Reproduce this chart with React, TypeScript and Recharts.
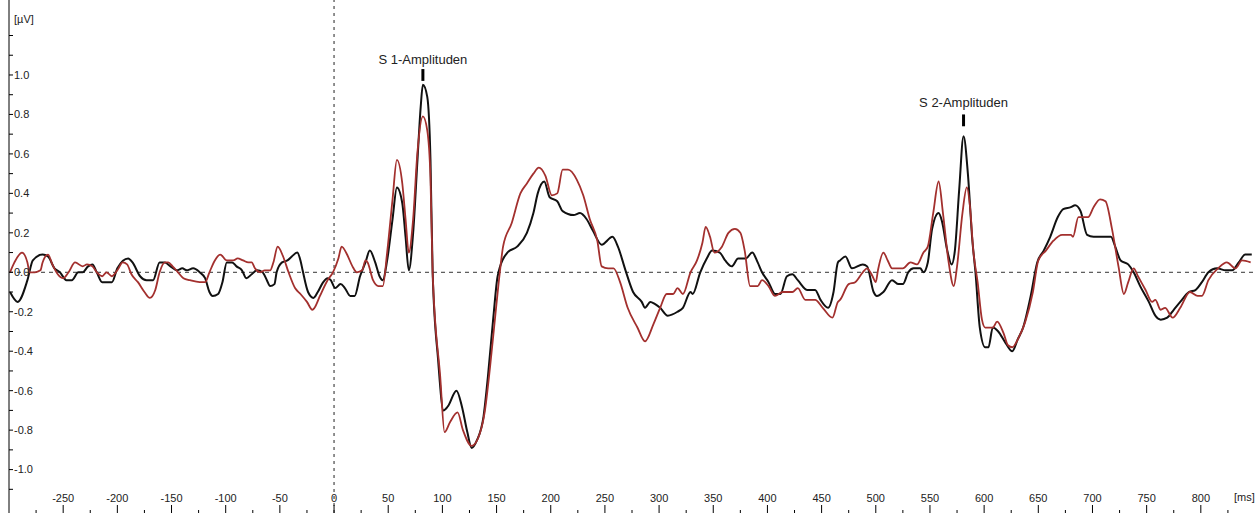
import { Label, Line, LineChart, ReferenceLine, XAxis, YAxis } from "recharts";

// ERP traces, time in ms, amplitude in µV
const blackTimes = [
  -299, -292, -283, -278, -269, -264, -258, -253, -247, -242,
  -236, -232, -227, -223, -219, -214, -205, -200, -190, -186,
  -179, -173, -167, -161, -156, -151, -145, -140, -136, -130,
  -124, -119, -115, -112, -107, -103, -99, -94, -90, -85,
  -81, -76, -71, -66, -62, -59, -55, -53, -48, -43,
  -39, -34, -31, -29, -24, -19, -15, -10, -6, -3,
  1, 6, 10, 15, 19, 24, 29, 33, 38, 42,
  45, 49, 54, 58, 63, 66, 69, 73, 77, 80,
  82, 86, 89, 91, 96, 101, 105, 113, 118, 123,
  127, 132, 138, 142, 147, 151, 160, 169, 178, 184,
  188, 194, 199, 206, 211, 221, 227, 233, 239, 247,
  257, 262, 269, 276, 284, 287, 292, 296, 301, 308,
  317, 322, 329, 331, 338, 344, 349, 356, 361, 367,
  373, 380, 386, 391, 395, 401, 407, 412, 418, 423,
  428, 437, 444, 449, 456, 461, 465, 467, 472, 478,
  488, 492, 498, 501, 507, 515, 521, 525, 530, 535,
  541, 544, 548, 552, 558, 561, 566, 570, 573, 577,
  581, 585, 589, 592, 596, 601, 604, 608, 613, 620,
  626, 631, 636, 643, 649, 655, 661, 668, 673, 680,
  684, 689, 695, 701, 707, 712, 717, 721, 726, 733,
  738, 744, 752, 758, 763, 769, 775, 781, 789, 795,
  801, 807, 815, 823, 829, 835, 841, 847,
];
const blackValues = [
  -0.1, -0.15, -0.04, 0.06, 0.09, 0.08, 0.02, 0.0, -0.04, -0.04,
  0.0, 0.0, 0.03, 0.04, 0.0, -0.05, -0.05, 0.02, 0.07, 0.05,
  -0.02, -0.04, -0.04, 0.05, 0.05, 0.03, 0.01, 0.02, 0.01, 0.02,
  0.0, -0.03, -0.1, -0.12, -0.11, -0.05, 0.05, 0.05, 0.03, 0.01,
  -0.03, -0.01, 0.01, 0.0, -0.04, -0.07, -0.06, 0.0, 0.05, 0.06,
  0.08, 0.1, 0.06, 0.01, -0.1, -0.13, -0.1, -0.05, -0.03, -0.04,
  -0.08, -0.06, -0.08, -0.12, -0.12, -0.02, 0.05, 0.11, 0.05, -0.02,
  -0.04, 0.06, 0.27, 0.43, 0.35, 0.18, 0.01, 0.2, 0.57, 0.84,
  0.95, 0.89, 0.57, 0.0, -0.44, -0.7, -0.68, -0.6, -0.68, -0.81,
  -0.89, -0.85, -0.73, -0.53, -0.23, -0.02, 0.1, 0.13, 0.2, 0.3,
  0.4, 0.46, 0.38, 0.36, 0.31, 0.29, 0.3, 0.27, 0.21, 0.14,
  0.18, 0.13, 0.01, -0.1, -0.15, -0.18, -0.15, -0.16, -0.18, -0.22,
  -0.2, -0.18, -0.1, -0.11, 0.0, 0.07, 0.11, 0.1, 0.06, 0.03,
  0.07, 0.07, 0.1, 0.05, 0.0, -0.05, -0.11, -0.11, -0.02, -0.01,
  -0.04, -0.09, -0.09, -0.14, -0.18, -0.1, 0.05, 0.06, 0.08, 0.02,
  0.04, 0.03, -0.1, -0.12, -0.1, -0.04, -0.06, -0.06, 0.0, 0.02,
  0.02, 0.0, 0.05, 0.22, 0.3, 0.26, 0.11, 0.04, 0.11, 0.42,
  0.69, 0.5, 0.17, 0.0, -0.28, -0.38, -0.38, -0.28, -0.3, -0.36,
  -0.4, -0.34, -0.28, -0.12, 0.05, 0.11, 0.18, 0.28, 0.32, 0.33,
  0.34, 0.31, 0.19, 0.18, 0.18, 0.18, 0.18, 0.13, 0.06, 0.04,
  0.0, -0.07, -0.15, -0.22, -0.24, -0.23, -0.19, -0.15, -0.1, -0.09,
  -0.05, 0.0, 0.02, 0.01, 0.01, 0.05, 0.09, 0.09,
];

const redTimes = [
  -299, -295, -288, -283, -281, -276, -271, -269, -264, -260,
  -255, -250, -245, -239, -232, -228, -223, -219, -214, -210,
  -205, -200, -195, -191, -187, -181, -175, -170, -165, -161,
  -156, -153, -149, -144, -139, -133, -124, -119, -115, -110,
  -105, -99, -93, -89, -84, -79, -76, -73, -68, -64,
  -59, -56, -52, -47, -42, -36, -31, -25, -20, -18,
  -13, -6, -1, 4, 7, 12, 17, 21, 26, 29,
  31, 36, 41, 45, 49, 54, 58, 63, 66, 69,
  73, 77, 82, 86, 89, 91, 98, 102, 107, 114,
  119, 127, 133, 139, 144, 149, 153, 156, 164, 172,
  178, 184, 189, 195, 201, 206, 211, 216, 224, 230,
  236, 243, 247, 253, 258, 264, 271, 280, 287, 295,
  301, 307, 313, 317, 322, 329, 335, 340, 343, 347,
  351, 358, 364, 370, 375, 379, 384, 391, 395, 401,
  407, 414, 423, 428, 435, 444, 451, 460, 465, 467,
  475, 481, 488, 492, 497, 500, 502, 507, 511, 515,
  525, 532, 538, 544, 548, 553, 558, 562, 567, 572,
  575, 580, 584, 587, 590, 594, 598, 601, 608, 612,
  618, 622, 626, 632, 638, 645, 650, 657, 664, 672,
  680, 682, 687, 696, 701, 707, 712, 718, 724, 729,
  733, 738, 742, 749, 755, 758, 763, 767, 774, 781,
  790, 797, 801, 807, 816, 824, 832, 838, 846,
];
const redValues = [
  0.0, 0.05, 0.1, 0.05, 0.0, 0.0, 0.01, 0.05, 0.09, 0.04,
  -0.01, -0.03, 0.0, 0.05, 0.03, 0.04, 0.03, 0.0, -0.02, 0.0,
  -0.02, 0.01, 0.05, 0.04, -0.01, -0.05, -0.1, -0.13, -0.09, 0.0,
  0.05, 0.05, 0.03, 0.0, -0.03, -0.04, -0.05, -0.05, 0.0, 0.06,
  0.09, 0.06, 0.06, 0.07, 0.06, 0.05, 0.05, 0.02, 0.0, 0.01,
  0.01, 0.05, 0.13, 0.08, 0.0, -0.08, -0.11, -0.15, -0.19, -0.18,
  -0.12, -0.04, 0.0, 0.07, 0.13, 0.09, 0.03, 0.0, 0.01, 0.06,
  0.05, -0.04, -0.07, -0.07, 0.1, 0.37, 0.57, 0.45, 0.27, 0.1,
  0.27, 0.61, 0.79, 0.72, 0.48, 0.0, -0.53, -0.81, -0.76, -0.71,
  -0.8, -0.88, -0.84, -0.71, -0.48, -0.21, 0.0, 0.13, 0.25, 0.4,
  0.45, 0.5, 0.53, 0.49, 0.39, 0.4, 0.52, 0.52, 0.47, 0.39,
  0.27, 0.16, 0.03, 0.02, 0.02, -0.05, -0.18, -0.28, -0.35, -0.26,
  -0.18, -0.11, -0.11, -0.08, -0.11, 0.0, 0.06, 0.15, 0.23, 0.18,
  0.1, 0.13, 0.2, 0.22, 0.2, 0.11, -0.07, -0.07, -0.04, -0.07,
  -0.12, -0.1, -0.1, -0.08, -0.14, -0.14, -0.18, -0.23, -0.15, -0.14,
  -0.06, -0.05, 0.0, 0.02, -0.02, -0.05, 0.01, 0.1, 0.06, 0.02,
  0.02, 0.05, 0.04, 0.1, 0.13, 0.3, 0.46, 0.3, 0.06, -0.07,
  0.03, 0.3, 0.43, 0.33, 0.11, -0.05, -0.24, -0.28, -0.28, -0.25,
  -0.31, -0.37, -0.38, -0.33, -0.25, -0.1, 0.06, 0.11, 0.16, 0.19,
  0.19, 0.18, 0.28, 0.28, 0.33, 0.37, 0.36, 0.22, 0.03, -0.11,
  -0.05, 0.02, -0.02, -0.09, -0.15, -0.14, -0.19, -0.18, -0.23, -0.18,
  -0.1, -0.12, -0.12, -0.04, 0.02, 0.05, 0.02, 0.06, 0.05,
];

const xTicks = [
  -275, -250, -225, -200, -175, -150, -125, -100, -75, -50, -25, 0, 25, 50,
  75, 100, 125, 150, 175, 200, 225, 250, 275, 300, 325, 350, 375, 400, 425,
  450, 475, 500, 525, 550, 575, 600, 625, 650, 675, 700, 725, 750, 775, 800,
  825,
];
const yTicks = [
  -1.1, -1.0, -0.9, -0.8, -0.7, -0.6, -0.5, -0.4, -0.3, -0.2, -0.1, 0.0, 0.1,
  0.2, 0.3, 0.4, 0.5, 0.6, 0.7, 0.8, 0.9, 1.0, 1.1, 1.2,
];

const W = 1260;
const H = 513;
const LEFT = 9;
const FONT = "'Liberation Sans', Arial, sans-serif";

const toRows = (ts: number[], vs: number[]) =>
  ts.map((t, i) => ({ t, v: vs[i] }));

const blackData = toRows(blackTimes, blackValues);
const redData = toRows(redTimes, redValues);

function XTick(props: any) {
  const { x, payload } = props;
  const val = payload.value as number;
  const major = val % 50 === 0;
  return (
    <g>
      <line x1={x} x2={x} y1={H - (major ? 8 : 3)} y2={H} stroke="#000" />
      {major && (
        <text x={x} y={502} textAnchor="middle" fontSize={11} fill="#222">
          {val}
        </text>
      )}
    </g>
  );
}

function YTick(props: any) {
  const { y, payload } = props;
  const val = payload.value as number;
  const tenths = Math.round(val * 10);
  const major = tenths % 2 === 0 && Math.abs(tenths) <= 10;
  const txt = tenths === 0 ? "0.0" : val.toFixed(1);
  return (
    <g>
      <line x1={LEFT} x2={LEFT + 4} y1={y} y2={y} stroke="#000" />
      {major && (
        <text x={LEFT + 5} y={y} dy="0.35em" fontSize={11} fill="#222">
          {txt}
        </text>
      )}
    </g>
  );
}

export default function App() {
  return (
    <div
      style={{
        position: "absolute",
        left: 0,
        top: 0,
        width: W,
        height: H,
        background: "#fff",
        fontFamily: FONT,
      }}
    >
      <LineChart
        width={W}
        height={H}
        margin={{ top: 0, right: 5, bottom: 0, left: LEFT }}
      >
        <XAxis
          type="number"
          dataKey="t"
          domain={[-300, 850]}
          ticks={xTicks}
          allowDataOverflow
          mirror
          axisLine={false}
          tickLine={false}
          tick={<XTick />}
          interval={0}
        />
        <YAxis
          type="number"
          dataKey="v"
          domain={[-1.22, 1.38]}
          ticks={yTicks}
          allowDataOverflow
          mirror
          axisLine={{ stroke: "#000" }}
          tickLine={false}
          tick={<YTick />}
          interval={0}
        />
        <ReferenceLine x={0} stroke="#222" strokeDasharray="3 4" />
        <ReferenceLine y={0} stroke="#333" strokeDasharray="4 4" />
        <Line
          data={blackData}
          dataKey="v"
          type="monotone"
          stroke="#111"
          strokeWidth={2}
          dot={false}
          isAnimationActive={false}
        />
        <Line
          data={redData}
          dataKey="v"
          type="monotone"
          stroke="#a3302e"
          strokeWidth={1.8}
          dot={false}
          isAnimationActive={false}
        />
        <ReferenceLine
          segment={[
            { x: 82, y: 0.97 },
            { x: 82, y: 1.03 },
          ]}
          stroke="#000"
          strokeWidth={3}
        >
          <Label
            value="S 1-Amplituden"
            position="top"
            offset={5}
            fontSize={13}
            fill="#222"
          />
        </ReferenceLine>
        <ReferenceLine
          segment={[
            { x: 581, y: 0.74 },
            { x: 581, y: 0.8 },
          ]}
          stroke="#000"
          strokeWidth={3}
        >
          <Label
            value="S 2-Amplituden"
            position="top"
            offset={7}
            fontSize={13}
            fill="#222"
          />
        </ReferenceLine>
      </LineChart>
      <div
        style={{
          position: "absolute",
          left: 14,
          top: 13,
          fontSize: 11,
          color: "#222",
        }}
      >
        [µV]
      </div>
      <div
        style={{
          position: "absolute",
          left: 1234,
          top: 491,
          fontSize: 11,
          color: "#222",
        }}
      >
        [ms]
      </div>
    </div>
  );
}
